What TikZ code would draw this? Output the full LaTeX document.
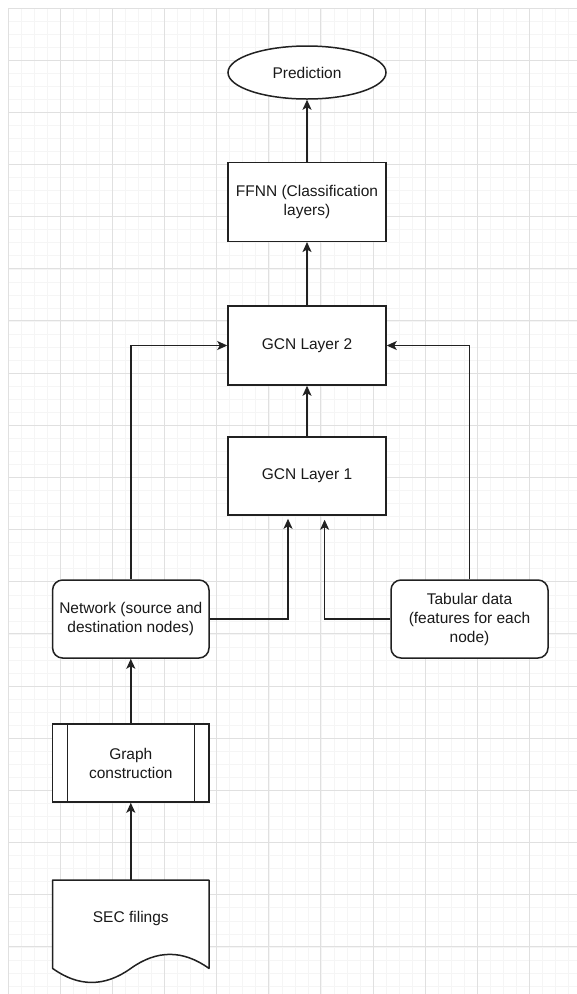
\documentclass[tikz,border=0pt]{standalone}
\usepackage{fontspec}
\setmainfont{Liberation Sans}
\usetikzlibrary{arrows.meta,calc,shapes.geometric}
\begin{document}
\begin{tikzpicture}[x=1pt,y=-1pt,
  box/.style={draw=black!87, line width=1.5pt, fill=white, minimum width=157pt, align=center,
              font=\fontsize{15.5}{19}\selectfont, inner sep=2pt, text=black!90},
  arr/.style={draw=black!87, line width=1.5pt, -{Stealth[length=10pt,width=9pt,inset=2.5pt]}},
  majorgrid/.style={draw=black!12, line width=0.9pt},
  minorgrid/.style={draw=black!4, line width=0.6pt}]
\fill[white] (0,0) rectangle (577,994);
\useasboundingbox (0,0) rectangle (577,994);
% grid
\foreach \i in {0,...,43} { \draw[minorgrid] ({8+13.04*\i},8) -- ({8+13.04*\i},994); }
\foreach \j in {0,...,75} { \draw[minorgrid] (8,{8+13.04*\j}) -- (577,{8+13.04*\j}); }
\foreach \i in {0,...,10} { \draw[majorgrid] ({8+52.15*\i},8) -- ({8+52.15*\i},994); }
\foreach \j in {0,...,18} { \draw[majorgrid] (8,{8+52.15*\j}) -- (577,{8+52.15*\j}); }
% nodes
\node[box, ellipse, minimum width=158pt, minimum height=53pt] (pred) at (307,72.5) {Prediction};
\node[box, minimum width=158pt, minimum height=78.6pt] (ffnn) at (307,202) {FFNN (Classification\\layers)};
\node[box, minimum width=158pt, minimum height=79pt] (g2) at (307,345.5) {GCN Layer 2};
\node[box, minimum width=158pt, minimum height=78pt] (g1) at (307,476) {GCN Layer 1};
\node[box, rounded corners=10pt, minimum width=156.4pt, minimum height=78pt] (net) at (130.8,619) {Network (source and\\destination nodes)};
\node[box, rounded corners=10pt, minimum width=157pt, minimum height=78pt] (tab) at (469.5,619) {Tabular data\\(features for each\\node)};
\node[box, minimum width=156.4pt, minimum height=78pt] (gc) at (130.8,763) {Graph\\construction};
\draw[draw=black!87, line width=1.5pt] ([xshift=15.5pt]gc.north west) -- ([xshift=15.5pt]gc.south west);
\draw[draw=black!87, line width=1.5pt] ([xshift=-15.5pt]gc.north east) -- ([xshift=-15.5pt]gc.south east);
% document shape
\draw[draw=black!87, line width=1.5pt, fill=white, line join=round]
  (52.6,880) -- (209,880) -- (209,968.4)
  .. controls (182.9,949.7) and (156.9,949.7) .. (130.8,968.4)
  .. controls (104.7,987.1) and (78.7,987.1) .. (52.6,968.4) -- cycle;
\node[font=\fontsize{15.5}{19}\selectfont, text=black!90] (sec) at (130.8,918) {SEC filings};
\coordinate (sectop) at (130.8,880);
% connectors
\draw[arr] (ffnn.north) -- (pred.south);
\draw[arr] (g2.north) -- (ffnn.south);
\draw[arr] (g1.north) -- (g2.south);
\draw[arr] (net.north) |- (g2.west);
\draw[arr] (tab.north) |- (g2.east);
\draw[arr, shorten >=3pt] (net.east) -| ([xshift=-19pt]g1.south);
\draw[arr, shorten >=4pt] (tab.west) -| ([xshift=17.6pt]g1.south);
\draw[arr] (gc.north) -- (net.south);
\draw[arr] (sectop) -- (gc.south);
\end{tikzpicture}
\end{document}
